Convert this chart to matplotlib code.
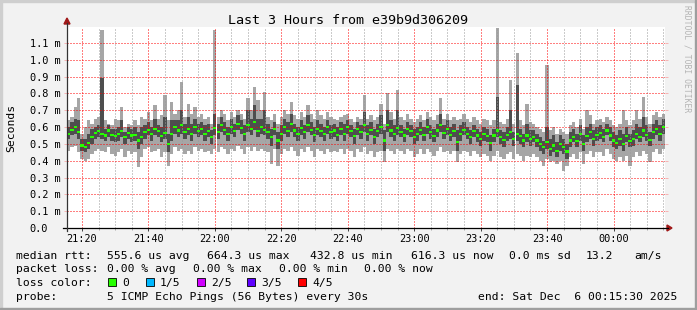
import matplotlib
matplotlib.use('Agg')
import matplotlib.pyplot as plt
import matplotlib.dates as mdates
import numpy as np
import pandas as pd
from matplotlib.patches import Rectangle, Polygon
from matplotlib.lines import Line2D

#-----------------------------------------------------------------------------------------------------------------------
# Data: one step per minute, values in microseconds (sorted pings: lo, p2, median, p4, hi)
start = '2025-12-05 21:16:00'

med = [560, 585, 600, 570, 490, 480, 505, 540, 565, 575, 560, 550, 580, 555, 545, 560, 575, 540, 565, 550,
       555, 520, 540, 570, 585, 560, 590, 575, 545, 565, 500, 560, 600, 580, 610, 570, 590, 560, 600, 575,
       590, 560, 575, 540, 595, 570, 610, 585, 560, 600, 575, 620, 595, 560, 610, 590, 630, 575, 600, 585,
       570, 540, 590, 520, 560, 600, 575, 620, 580, 560, 595, 570, 610, 585, 555, 590, 575, 560, 600, 570,
       580, 555, 590, 560, 600, 575, 545, 590, 570, 610, 560, 585, 540, 575, 600, 520, 610, 580, 560, 595,
       570, 550, 590, 575, 540, 560, 585, 555, 600, 570, 545, 580, 610, 565, 590, 555, 575, 510, 560, 585,
       560, 540, 575, 550, 530, 560, 545, 505, 550, 580, 540, 525, 555, 570, 530, 560, 545, 520, 550, 530,
       540, 520, 500, 480, 510, 470, 490, 460, 500, 480, 455, 520, 540, 515, 560, 500, 545, 570, 530, 555,
       565, 540, 580, 550, 520, 505, 530, 500, 545, 515, 530, 560, 540, 580, 555, 525, 570, 590, 560, 600]

p4 = [600, 630, 650, 640, 530, 530, 560, 590, 600, 610, 890, 590, 610, 590, 590, 600, 640, 570, 600, 590,
      600, 570, 600, 610, 630, 600, 650, 610, 600, 660, 560, 640, 640, 640, 700, 620, 660, 620, 650, 620,
      630, 610, 620, 580, 680, 620, 660, 630, 600, 650, 620, 670, 640, 610, 700, 650, 730, 650, 650, 700,
      620, 590, 630, 570, 610, 650, 630, 680, 620, 600, 640, 610, 670, 630, 600, 640, 620, 600, 640, 610,
      620, 600, 630, 620, 640, 610, 590, 630, 610, 690, 610, 630, 590, 620, 670, 580, 700, 640, 610, 700,
      610, 590, 630, 610, 590, 600, 630, 600, 650, 610, 590, 620, 680, 610, 640, 600, 620, 580, 610, 630,
      600, 580, 610, 590, 570, 600, 590, 550, 590, 780, 580, 570, 600, 700, 570, 850, 590, 560, 620, 580,
      580, 560, 540, 520, 600, 530, 550, 510, 550, 530, 500, 570, 590, 560, 610, 550, 600, 620, 580, 600,
      610, 590, 620, 600, 570, 550, 580, 560, 600, 560, 580, 620, 600, 660, 610, 570, 620, 640, 610, 650]

hi = [640, 660, 720, 770, 560, 600, 640, 620, 650, 660, 1180, 640, 620, 610, 650, 640, 720, 600, 620, 610,
      640, 610, 660, 650, 690, 640, 730, 650, 670, 790, 640, 750, 680, 700, 870, 660, 740, 680, 720, 660,
      680, 650, 660, 620, 1180, 660, 700, 680, 640, 690, 660, 700, 680, 650, 770, 700, 840, 760, 700, 810,
      660, 640, 680, 620, 660, 700, 680, 750, 670, 650, 690, 660, 730, 680, 650, 700, 670, 650, 690, 660,
      650, 640, 660, 670, 680, 650, 630, 660, 650, 790, 650, 670, 640, 660, 740, 620, 800, 690, 650, 820,
      660, 640, 680, 650, 630, 650, 670, 640, 690, 660, 640, 670, 770, 650, 680, 640, 660, 640, 650, 680,
      650, 630, 660, 640, 620, 650, 640, 610, 640, 1190, 630, 620, 650, 880, 620, 1040, 640, 610, 740, 630,
      620, 600, 590, 570, 970, 580, 600, 560, 590, 570, 560, 610, 630, 600, 650, 590, 700, 670, 620, 640,
      650, 630, 660, 640, 610, 600, 620, 700, 640, 610, 640, 700, 650, 780, 660, 620, 670, 690, 660, 680]

p2 = [530, 550, 560, 530, 460, 450, 470, 500, 530, 540, 530, 520, 540, 520, 510, 520, 540, 500, 530, 510,
      520, 470, 500, 530, 550, 520, 550, 540, 510, 530, 450, 520, 560, 540, 560, 530, 550, 520, 560, 540,
      550, 520, 540, 500, 550, 530, 570, 550, 520, 560, 540, 580, 560, 520, 570, 550, 580, 540, 560, 550,
      530, 490, 550, 470, 520, 560, 540, 570, 540, 520, 550, 530, 570, 550, 510, 550, 540, 520, 560, 530,
      540, 520, 550, 520, 560, 540, 500, 550, 530, 570, 520, 550, 500, 540, 560, 460, 570, 540, 520, 550,
      540, 510, 550, 540, 500, 520, 550, 520, 560, 530, 510, 540, 570, 530, 550, 520, 540, 460, 520, 550,
      530, 500, 540, 510, 490, 520, 510, 460, 510, 540, 500, 480, 520, 530, 490, 520, 500, 480, 510, 490,
      510, 480, 460, 440, 470, 430, 450, 420, 460, 440, 410, 480, 510, 480, 520, 460, 510, 530, 490, 520,
      530, 510, 550, 520, 480, 470, 490, 460, 510, 480, 490, 530, 510, 540, 520, 490, 530, 550, 520, 560]

lo = [460, 480, 490, 450, 410, 400, 410, 440, 460, 470, 460, 450, 480, 440, 430, 450, 470, 420, 460, 440,
      450, 360, 420, 470, 480, 450, 460, 470, 420, 450, 370, 440, 480, 460, 470, 440, 460, 440, 480, 460,
      470, 450, 460, 440, 470, 450, 480, 470, 440, 470, 460, 490, 470, 440, 480, 460, 480, 460, 470, 460,
      450, 380, 470, 370, 440, 470, 460, 480, 460, 430, 470, 450, 480, 460, 420, 470, 460, 440, 470, 450,
      460, 450, 470, 440, 470, 460, 420, 470, 450, 480, 440, 460, 420, 450, 460, 390, 470, 460, 440, 470,
      460, 440, 470, 460, 420, 440, 470, 440, 470, 450, 430, 460, 480, 450, 460, 440, 460, 390, 440, 460,
      450, 430, 460, 440, 420, 440, 430, 400, 430, 460, 420, 410, 440, 450, 410, 440, 430, 400, 430, 420,
      440, 420, 400, 370, 410, 390, 400, 380, 400, 340, 370, 420, 440, 410, 450, 380, 440, 460, 420, 450,
      450, 430, 470, 440, 410, 400, 420, 400, 430, 370, 420, 450, 430, 460, 440, 390, 450, 470, 440, 470]

ytick_ms = [0.0, 0.1, 0.2, 0.3, 0.4, 0.5, 0.6, 0.7, 0.8, 0.9, 1.0, 1.1]

title = 'Last 3 Hours from e39b9d306209'
rtt_line = ['median rtt:', '555.6 us avg', '664.3 us max', '432.8 us min', '616.3 us now',
            '0.0 ms sd', '13.2', 'am/s']
loss_line = ['packet loss:', '0.00 % avg', '0.00 % max', '0.00 % min', '0.00 % now']
loss_labels = ['0', '1/5', '2/5', '3/5', '4/5']
loss_colors = ['#26ff00', '#00b8ff', '#d000ff', '#5e00ff', '#ff0000']
probe_text = '5 ICMP Echo Pings (56 Bytes) every 30s'
end_text = 'end: Sat Dec  6 00:15:30 2025'

#-----------------------------------------------------------------------------------------------------------------------
W, H = 697, 310
mono = 'DejaVu Sans Mono'
plt.rcParams['font.family'] = mono


def fx(x):
    return x / W


def fy(y):
    return 1 - y / H


fig = plt.figure(figsize=(W / 100, H / 100), dpi=100, facecolor='#f2f2f2')

# 3D frame
fig.patches.append(Rectangle((0, fy(2)), 1, 2 / H, transform=fig.transFigure, color='#cfcfcf', zorder=0))
fig.patches.append(Rectangle((0, 0), 2 / W, 1, transform=fig.transFigure, color='#cfcfcf', zorder=0))
fig.patches.append(Rectangle((0, 0), 1, 2 / H, transform=fig.transFigure, color='#9e9e9e', zorder=0))
fig.patches.append(Rectangle((fx(W - 2), 0), 2 / W, 1, transform=fig.transFigure, color='#9e9e9e', zorder=0))

plot_l, plot_r, plot_t, plot_b = 67, 665, 27, 228
ax = fig.add_axes([fx(plot_l), fy(plot_b), (plot_r - plot_l) / W, (plot_b - plot_t) / H])
ax.set_facecolor('white')

times = pd.date_range(start, periods=len(med), freq='min')
to_s = lambda v: np.asarray(v) * 1e-6
step = 1 / 1440

ytop = 1.195e-3
ax.bar(times, to_s(hi) - to_s(lo), bottom=to_s(lo), width=step, color='#a6a6a6',
       linewidth=0, antialiased=False, zorder=1)
ax.bar(times, to_s(p4) - to_s(p2), bottom=to_s(p2), width=step, color='#4e4e4e',
       linewidth=0, antialiased=False, zorder=2)
mark_h = 2.2 * ytop / (plot_b - plot_t)
ax.bar(times, mark_h, bottom=to_s(med) - mark_h / 2, width=step, color=loss_colors[0],
       linewidth=0, antialiased=False, zorder=3)

ax.set_xlim(pd.Timestamp('2025-12-05 21:15:30'), pd.Timestamp('2025-12-06 00:15:30'))
ax.set_ylim(0, ytop)

ax.xaxis.set_major_locator(mdates.MinuteLocator(byminute=[0, 20, 40]))
ax.xaxis.set_minor_locator(mdates.MinuteLocator(byminute=range(0, 60, 5)))
ax.xaxis.set_major_formatter(mdates.DateFormatter('%H:%M'))
ax.set_yticks([v * 1e-3 for v in ytick_ms],
              ['0.0' if v == 0 else f'{v:.1f} m' for v in ytick_ms])

for s in ax.spines.values():
    s.set_visible(False)

major_c = (1, 0, 0, 0.25)
minor_c = (0.6, 0.6, 0.6, 0.45)
ax.grid(which='major', color=major_c, linestyle=(0, (1, 2)), linewidth=0.72, zorder=5)
ax.grid(which='minor', axis='x', color=minor_c, linestyle=(0, (1, 2)), linewidth=0.72, zorder=4)
ax.set_axisbelow(False)

ax.tick_params(axis='x', which='major', length=2.2, width=0.72, color='#444444', pad=2,
               labelsize=7.4, labelcolor='black')
ax.tick_params(axis='x', which='minor', length=1.5, width=0.72, color='#aaaaaa')
ax.tick_params(axis='y', which='major', length=2.5, width=0.72, color=major_c, pad=24.5,
               labelsize=7.4, right=True)
for lbl in ax.get_yticklabels():
    lbl.set_horizontalalignment('left')

# axes with arrows
fig.add_artist(Line2D([fx(63), fx(668)], [fy(plot_b), fy(plot_b)], color='black', lw=0.9))
fig.add_artist(Line2D([fx(plot_l), fx(plot_l)], [fy(plot_b + 3), fy(23)], color='#333333', lw=0.9))
arrow_c = '#a01818'
fig.patches.append(Polygon([(fx(667), fy(225)), (fx(667), fy(231)), (fx(672), fy(228))],
                           closed=True, transform=fig.transFigure, color=arrow_c))
fig.patches.append(Polygon([(fx(64), fy(24)), (fx(70), fy(24)), (fx(67), fy(18))],
                           closed=True, transform=fig.transFigure, color=arrow_c))

# texts
fig.text(fx(348.5), fy(24), title, ha='center', va='baseline', fontsize=9.6)
fig.text(fx(11), fy((plot_t + plot_b) / 2), 'Seconds', rotation=90, ha='center', va='center', fontsize=8.2)
fig.text(fx(687), fy(5), 'RRDTOOL / TOBI OETIKER', rotation=270, ha='center', va='top',
         fontsize=5.8, color='#b4b4b4')

leg_size = 8.2
rtt_x = [16, 107, 207, 310, 411, 509, 586, 634]
for t, x in zip(rtt_line, rtt_x):
    fig.text(fx(x), fy(259), t, ha='left', va='baseline', fontsize=leg_size)

loss_x = [16, 107, 193, 279, 364]
for t, x in zip(loss_line, loss_x):
    fig.text(fx(x), fy(272.5), t, ha='left', va='baseline', fontsize=leg_size)

fig.text(fx(16), fy(286), 'loss color:', ha='left', va='baseline', fontsize=leg_size)
box_x = [108, 146, 197, 247, 298]
for lab, col, x in zip(loss_labels, loss_colors, box_x):
    fig.patches.append(Rectangle((fx(x), fy(286)), 8 / W, 8 / H, transform=fig.transFigure,
                                 facecolor=col, edgecolor='black', linewidth=0.6))
    fig.text(fx(x + 14), fy(286), lab, ha='left', va='baseline', fontsize=leg_size)

fig.text(fx(16), fy(299.5), 'probe:', ha='left', va='baseline', fontsize=leg_size)
fig.text(fx(107), fy(299.5), probe_text, ha='left', va='baseline', fontsize=leg_size)
fig.text(fx(478), fy(299.5), end_text, ha='left', va='baseline', fontsize=leg_size)

fig.savefig('out.png', dpi=100, facecolor=fig.get_facecolor())
